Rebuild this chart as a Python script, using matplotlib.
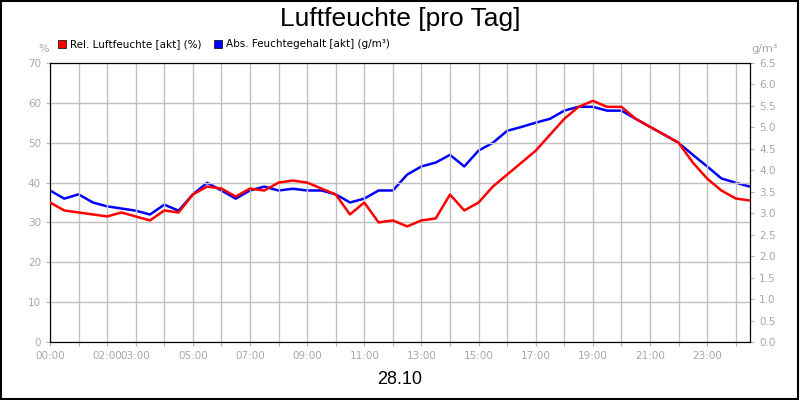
import matplotlib
matplotlib.use("Agg")
import matplotlib.pyplot as plt
import matplotlib.patches as mpatches

# time in hours, half-hour steps
hours = [i * 0.5 for i in range(50)]
rel_humidity = [35, 33, 32.5, 32, 31.5, 32.5, 31.5, 30.5, 33, 32.5,
                37, 39, 38.5, 36.5, 38.5, 38, 40, 40.5, 40, 38.5,
                37, 32, 35, 30, 30.5, 29, 30.5, 31, 37, 33,
                35, 39, 42, 45, 48, 52, 56, 59, 60.5, 59,
                59, 56, 54, 52, 50, 45, 41, 38, 36, 35.5]
abs_humidity = [3.53, 3.34, 3.44, 3.25, 3.16, 3.11, 3.06, 2.97, 3.20, 3.06,
                3.44, 3.71, 3.53, 3.34, 3.53, 3.62, 3.53, 3.57, 3.53, 3.53,
                3.44, 3.25, 3.34, 3.53, 3.53, 3.90, 4.09, 4.18, 4.36, 4.09,
                4.46, 4.64, 4.92, 5.01, 5.11, 5.20, 5.39, 5.48, 5.48, 5.39,
                5.39, 5.20, 5.01, 4.83, 4.64, 4.36, 4.09, 3.81, 3.71, 3.62]
tick_hours = list(range(25))
tick_labels = {0: "00:00", 2: "02:00", 3: "03:00", 5: "05:00", 7: "07:00",
               9: "09:00", 11: "11:00", 13: "13:00", 15: "15:00", 17: "17:00",
               19: "19:00", 21: "21:00", 23: "23:00"}

fig = plt.figure(figsize=(8, 4), dpi=100)
fig.patches.append(mpatches.Rectangle((0.001, 0.002), 0.997, 0.995, transform=fig.transFigure,
                                      fill=False, edgecolor="black", linewidth=1.5))
ax = fig.add_axes([0.0625, 0.145, 0.875, 0.6975])
ax2 = ax.twinx()

ax.plot(hours, rel_humidity, color="#ff0000", linewidth=1.8, zorder=3)
ax2.plot(hours, abs_humidity, color="#0000ff", linewidth=1.8, zorder=2)

ax.set_xlim(0, 24.5)
ax.set_ylim(0, 70)
ax2.set_ylim(0, 6.5)
ax.set_yticks(range(0, 71, 10))
ax2.set_yticks([i * 0.5 for i in range(14)])
ax2.set_yticklabels([f"{i * 0.5:.1f}" for i in range(14)])
ax.set_xticks(tick_hours)
ax.set_xticklabels([tick_labels.get(h, "") for h in tick_hours])
ax.grid(True, color="#c0c0c0", linewidth=1)
ax.set_axisbelow(True)
for a in (ax, ax2):
    a.tick_params(colors="#b0b0b0", labelsize=7.5, length=3, labelcolor="#a8a8a8")
    for s in a.spines.values():
        s.set_color("black")
ax.set_zorder(ax2.get_zorder() + 1)
ax.patch.set_visible(False)

fig.text(0.5, 0.952, "Luftfeuchte [pro Tag]", ha="center", va="center", fontsize=19,
         family="Liberation Sans")
fig.text(0.5, 0.05, "28.10", ha="center", va="center", fontsize=13, family="Liberation Sans")
fig.text(0.054, 0.878, "%", ha="center", va="center", fontsize=8, color="#a8a8a8")
fig.text(0.956, 0.878, "g/m³", ha="center", va="center", fontsize=8, color="#a8a8a8")

fig.patches.append(mpatches.Rectangle((0.073, 0.879), 0.01, 0.02, transform=fig.transFigure,
                                      facecolor="#ff0000", edgecolor="black", linewidth=0.5))
fig.text(0.087, 0.889, "Rel. Luftfeuchte [akt] (%)", va="center", fontsize=7.5)
fig.patches.append(mpatches.Rectangle((0.268, 0.879), 0.01, 0.02, transform=fig.transFigure,
                                      facecolor="#0000ff", edgecolor="black", linewidth=0.5))
fig.text(0.282, 0.889, "Abs. Feuchtegehalt [akt] (g/m³)", va="center", fontsize=7.5)

fig.savefig("out.png", dpi=100)
